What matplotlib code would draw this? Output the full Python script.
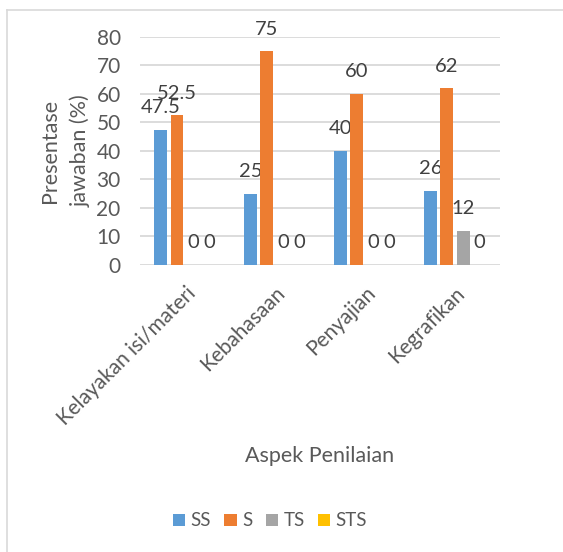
import matplotlib
matplotlib.use("Agg")
import numpy as np
import matplotlib.pyplot as plt
from matplotlib.lines import Line2D

plt.rcParams['font.family'] = ['Lato', 'DejaVu Sans']

categories = ['Kelayakan isi/materi', 'Kebahasaan', 'Penyajian', 'Kegrafikan']
series_names = ['SS', 'S', 'TS', 'STS']
ss = [47.5, 25, 40, 26]
s = [52.5, 75, 60, 62]
ts = [0, 0, 0, 12]
sts = [0, 0, 0, 0]
colors = ['#5B9BD5', '#ED7D31', '#A5A5A5', '#FFC000']
text_col = '#595959'

fig = plt.figure(figsize=(5.63, 5.52), dpi=100)
ax = fig.add_axes([0.249, 0.520, 0.639, 0.413])

x = np.arange(len(categories))
slot = 0.181
width = 0.144
for i, (name, vals) in enumerate(zip(series_names, [ss, s, ts, sts])):
    pos = x + (i - 1.5) * slot
    bars = ax.bar(pos, vals, width, color=colors[i], label=name, zorder=3)
    for b, v in zip(bars, vals):
        lab = f'{v:g}'
        ax.annotate(lab, (b.get_x() + b.get_width() / 2, v),
                    xytext=(0, 16), textcoords='offset points',
                    ha='center', va='center', fontsize=14.5, color='#404040')

ax.set_xlim(-0.5, len(categories) - 0.5)
ax.set_ylim(0, 80)
ax.set_yticks(range(0, 81, 10))
ax.yaxis.grid(True, color='#d9d9d9', linewidth=1.3, zorder=0)
for sp in ax.spines.values():
    sp.set_visible(False)
ax.tick_params(length=0, labelsize=15, colors=text_col)
ax.tick_params(axis='y', pad=14)
ax.set_xticks(x)
ax.set_xticklabels(categories, rotation=45, ha='right', rotation_mode='anchor')
ax.tick_params(axis='x', pad=13)

ax.set_ylabel('Presentase\njawaban (%)', fontsize=15.5, color=text_col, labelpad=4,
              linespacing=1.65)
fig.text(320 / 563, 1 - 456 / 552, 'Aspek Penilaian', ha='center', va='center',
         fontsize=15.5, color=text_col)

fig.legend(loc='center', bbox_to_anchor=(270 / 563, 1 - 521 / 552), ncol=4,
           frameon=False, fontsize=13.5, handlelength=0.65, handleheight=0.65,
           handletextpad=0.3, columnspacing=0.7, labelcolor=text_col)

# chart border
fig.add_artist(Line2D([7.5 / 563, 7.5 / 563], [0, 1 - 10 / 552],
                      transform=fig.transFigure, color='#d9d9d9', linewidth=1.2))
fig.add_artist(Line2D([7.5 / 563, 1], [1 - 10 / 552, 1 - 10 / 552],
                      transform=fig.transFigure, color='#d9d9d9', linewidth=1.2))

fig.savefig('out.png', dpi=100)
